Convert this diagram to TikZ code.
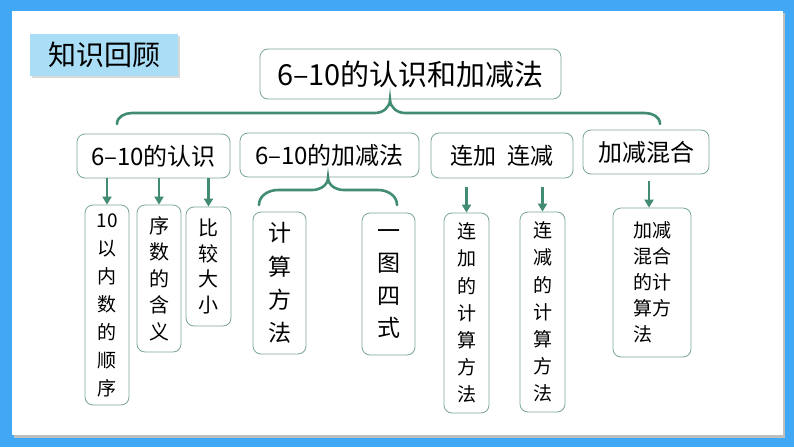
\documentclass[tikz,border=0pt]{standalone}
\usepackage{fontspec}
\setmainfont{Noto Sans CJK SC}
\usetikzlibrary{arrows.meta}
\definecolor{bgblue}{RGB}{64,168,245}
\definecolor{tagblue}{RGB}{170,222,246}
\definecolor{linegreen}{RGB}{66,140,115}
\definecolor{boxline}{RGB}{122,166,150}
\tikzset{
  box/.style={draw=boxline, line width=0.8pt, rounded corners=8pt, fill=white, inner sep=0pt, text=black},
  vbox/.style={box, align=center},
  arr/.style={draw=linegreen, line width=2.6pt, -{Triangle[width=9pt,length=8pt]}},
  brace/.style={draw=linegreen, line width=2.6pt, line cap=round},
}
\begin{document}
\begin{tikzpicture}[x=1pt,y=-1pt]
\useasboundingbox (0,0) rectangle (794,447);
\fill[bgblue] (0,0) rectangle (794,447);
\fill[black!25] (14,13) rectangle (785,438);
\fill[white] (12,11) rectangle (783,435);
% tag
\fill[black!15] (32,36) rectangle (180,78);
\node[fill=tagblue, minimum width=148pt, minimum height=42pt, inner sep=0pt,
      font=\fontsize{28}{30}\selectfont] (tag) at (104,55) {知识回顾};
% main
\node[box, minimum width=301pt, minimum height=50pt, font=\fontsize{29}{31}\selectfont] (main) at (410.5,74) {6–10的认识和加减法};
% level 1
\node[box, minimum width=153pt, minimum height=44pt, font=\fontsize{24}{26}\selectfont] (l1) at (153.5,156) {6–10的认识};
\node[box, minimum width=179pt, minimum height=44pt, font=\fontsize{24}{26}\selectfont] (l2) at (329.5,155) {6–10的加减法};
\node[box, minimum width=142pt, minimum height=45pt, font=\fontsize{23}{25}\selectfont] (l3) at (502,155.5) {连加\hspace{12pt}连减};
\node[box, minimum width=126pt, minimum height=44pt, font=\fontsize{24}{26}\selectfont] (l4) at (646,152) {加减混合};
% level 2
\node[vbox, minimum width=44pt, minimum height=200pt, font=\fontsize{19}{28}\selectfont] (c1) at (107,305) {10\\以\\内\\数\\的\\顺\\序};
\node[vbox, minimum width=44pt, minimum height=147pt, font=\fontsize{20}{26.5}\selectfont] (c2) at (159,278.5) {序\\数\\的\\含\\义};
\node[vbox, minimum width=45pt, minimum height=119pt, font=\fontsize{20}{25.7}\selectfont] (c3) at (208.5,266.5) {比\\较\\大\\小};
\node[vbox, minimum width=53pt, minimum height=142pt, font=\fontsize{23}{33.3}\selectfont] (c4) at (279.5,283) {计\\算\\方\\法};
\node[vbox, minimum width=53pt, minimum height=142pt, font=\fontsize{23}{32.5}\selectfont] (c5) at (388.5,284) {一\\图\\四\\式};
\node[vbox, minimum width=45pt, minimum height=200pt, font=\fontsize{19}{27.2}\selectfont] (c6) at (466.5,313) {连\\加\\的\\计\\算\\方\\法};
\node[vbox, minimum width=45pt, minimum height=200pt, font=\fontsize{19}{27.2}\selectfont] (c7) at (542.5,312) {连\\减\\的\\计\\算\\方\\法};
\node[box, align=left, minimum width=78pt, minimum height=149pt, font=\fontsize{19}{26}\selectfont] (c8) at (652,282.5) {加减\\混合\\的计\\算方\\法};
% arrows
\draw[arr] (c1.north |- l1.south) -- (c1.north);
\draw[arr] (c2.north |- l1.south) -- (c2.north);
\draw[arr] (c3.north |- l1.south) -- (c3.north);
\draw[arr, shorten <=9pt] (c6.north |- l3.south) -- (c6.north);
\draw[arr, shorten <=9pt] (c7.north |- l3.south) -- (c7.north);
\draw[arr, shorten <=7pt] ([xshift=-3pt]c8.north |- l4.south) -- ([xshift=-3pt]c8.north);
% big brace
\coordinate (bt) at (390,99.5);
\draw[brace] (117,124) to[out=-90+180,in=180] (132,113) -- (375,113) to[out=0,in=-90] (bt)
  to[out=-90,in=180] (405,113) -- (645,113) to[out=0,in=90] (660,124);
% small brace
\coordinate (st) at (328,177.5);
\draw[brace] (259,205) to[out=90,in=180] (278,190) -- (312,190) to[out=0,in=-90] (st)
  to[out=-90,in=180] (344,190) -- (378,190) to[out=0,in=90] (397,205);
\end{tikzpicture}
\end{document}
